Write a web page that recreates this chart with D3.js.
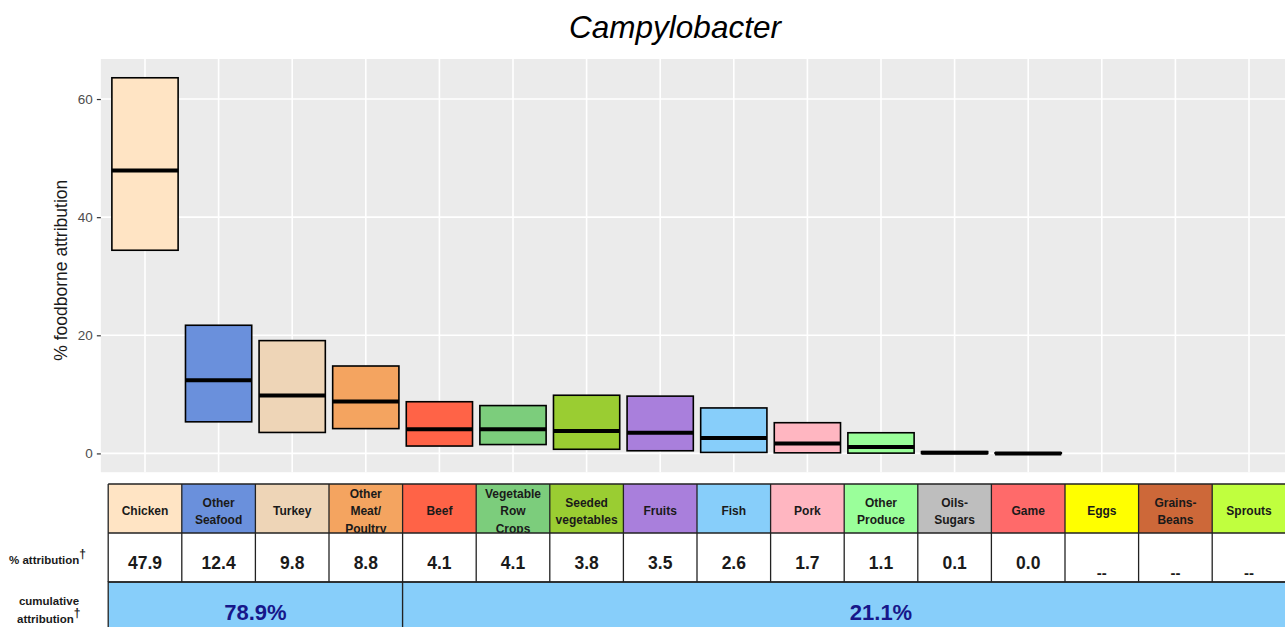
<!DOCTYPE html>
<html>
<head>
<meta charset="utf-8">
<script src="https://cdn.jsdelivr.net/npm/d3@7"></script>
<style>
  body { margin: 0; background: #ffffff; }
  svg { display: block; font-family: "Liberation Sans", Arial, sans-serif; }
</style>
</head>
<body>
<script>
// ---------- data ----------
const title = "Campylobacter";
const yAxisTitle = "% foodborne attribution";
const categories = ["Chicken", "Other Seafood", "Turkey", "Other Meat/Poultry", "Beef",
  "Vegetable Row Crops", "Seeded vegetables", "Fruits", "Fish", "Pork",
  "Other Produce", "Oils-Sugars", "Game", "Eggs", "Grains-Beans", "Sprouts"];
const headerLines = [["Chicken"], ["Other", "Seafood"], ["Turkey"], ["Other", "Meat/", "Poultry"], ["Beef"],
  ["Vegetable", "Row", "Crops"], ["Seeded", "vegetables"], ["Fruits"], ["Fish"], ["Pork"],
  ["Other", "Produce"], ["Oils-", "Sugars"], ["Game"], ["Eggs"], ["Grains-", "Beans"], ["Sprouts"]];
const colors = ["#FFE4C4", "#6A90DC", "#EED5B7", "#F4A460", "#FF6347",
  "#7CCD7C", "#9ACD32", "#A97FDC", "#87CEFA", "#FFB6C1",
  "#9AFF9A", "#BEBEBE", "#FF6A6A", "#FFFF00", "#CD6839", "#C0FF3E"];
const lowerValues  = [34.4, 5.35, 3.55, 4.2, 1.25, 1.5, 0.7, 0.45, 0.17, 0.1, 0.05, 0.0, 0.0, null, null, null];
const medianValues = [47.9, 12.4, 9.8, 8.8, 4.1, 4.1, 3.8, 3.5, 2.6, 1.7, 1.1, 0.1, 0.0, null, null, null];
const upperValues  = [63.6, 21.7, 19.1, 14.8, 8.75, 8.1, 9.85, 9.7, 7.7, 5.2, 3.5, 0.3, 0.1, null, null, null];
const attributionLabels = ["47.9", "12.4", "9.8", "8.8", "4.1", "4.1", "3.8", "3.5", "2.6", "1.7",
  "1.1", "0.1", "0.0", "--", "--", "--"];
const cumulativeLabels = ["78.9%", "21.1%"];
const cumulativeFrom = [0, 4];
const cumulativeTo = [3, 15];
const cumulativeLabelAt = ["Other Seafood|Turkey", "Other Produce"];
const yTicks = [0, 20, 40, 60];

// ---------- layout ----------
const W = 1285, H = 627;
const svg = d3.select("body").append("svg").attr("width", W).attr("height", H);

const x = d3.scaleBand().domain(categories).range([108.2, 1285.8]).padding(0);
const bw = x.bandwidth();
const cx = c => x(c) + bw / 2;

const panelTop = 59, panelBottom = 472.2;
const y = d3.scaleLinear().domain([-3.18, 66.78]).range([panelBottom, panelTop]);
const panelLeft = x.range()[0] - 0.1 * bw;
const panelRight = x.range()[1] + 0.1 * bw;

// panel background
svg.append("rect").attr("x", panelLeft).attr("y", panelTop)
  .attr("width", panelRight - panelLeft).attr("height", panelBottom - panelTop)
  .attr("fill", "#EBEBEB");

// gridlines
svg.append("g").selectAll("line").data(yTicks).join("line")
  .attr("x1", panelLeft).attr("x2", panelRight)
  .attr("y1", d => y(d)).attr("y2", d => y(d))
  .attr("stroke", "#ffffff").attr("stroke-width", 1.6);
svg.append("g").selectAll("line").data(categories).join("line")
  .attr("x1", d => cx(d)).attr("x2", d => cx(d))
  .attr("y1", panelTop).attr("y2", panelBottom)
  .attr("stroke", "#ffffff").attr("stroke-width", 1.6);

// y axis
const yAxis = d3.axisLeft(y).tickValues(yTicks).tickSize(4).tickPadding(4);
const gy = svg.append("g").attr("transform", `translate(${panelLeft},0)`).call(yAxis);
gy.select(".domain").remove();
gy.selectAll(".tick line").attr("stroke", "#333333").attr("stroke-width", 1.2);
gy.selectAll(".tick text").attr("fill", "#4D4D4D").attr("font-size", 13.5)
  .attr("font-family", "Liberation Sans, Arial, sans-serif");

svg.append("text")
  .attr("transform", `translate(67,${(y(0) + panelTop) / 2 + 14}) rotate(-90)`)
  .attr("text-anchor", "middle").attr("font-size", 17.5).attr("fill", "#1a1a1a")
  .text(yAxisTitle);

// title
svg.append("text").attr("x", 675).attr("y", 38).attr("text-anchor", "middle")
  .attr("font-size", 31.5).attr("font-style", "italic").attr("fill", "#000")
  .text(title);

// crossbars
const boxes = categories.map((c, i) => ({ c, i, lo: lowerValues[i], md: medianValues[i], hi: upperValues[i], col: colors[i] }))
  .filter(d => d.md !== null);
const boxW = bw * 0.9;
const gb = svg.append("g");
gb.selectAll("rect").data(boxes).join("rect")
  .attr("x", d => cx(d.c) - boxW / 2).attr("width", boxW)
  .attr("y", d => y(d.hi)).attr("height", d => Math.max(0, y(d.lo) - y(d.hi)))
  .attr("fill", d => d.col).attr("stroke", "#000").attr("stroke-width", 1.6);
gb.selectAll("line").data(boxes).join("line")
  .attr("x1", d => cx(d.c) - boxW / 2).attr("x2", d => cx(d.c) + boxW / 2)
  .attr("y1", d => y(d.md)).attr("y2", d => y(d.md))
  .attr("stroke", "#000").attr("stroke-width", 4);

// ---------- table ----------
const hTop = 484, hBot = 533, vBot = 582, cBot = 640;
const tbl = svg.append("g");
const border = "#222222";

// header cells
tbl.selectAll("rect.h").data(categories).join("rect").attr("class", "h")
  .attr("x", d => x(d)).attr("y", hTop).attr("width", bw).attr("height", hBot - hTop)
  .attr("fill", (d, i) => colors[i]);
// value cells
tbl.selectAll("rect.v").data(categories).join("rect").attr("class", "v")
  .attr("x", d => x(d)).attr("y", hBot).attr("width", bw).attr("height", vBot - hBot)
  .attr("fill", "#ffffff");

// header text
const defs = svg.append("defs");
categories.forEach((c, i) => {
  defs.append("clipPath").attr("id", "clip" + i).append("rect")
    .attr("x", x(c)).attr("y", hTop).attr("width", bw).attr("height", hBot - hTop);
  const lines = headerLines[i];
  const n = lines.length;
  const t = tbl.append("text").attr("clip-path", `url(#clip${i})`)
    .attr("text-anchor", "middle").attr("font-size", 12).attr("font-weight", "bold")
    .attr("fill", "#1a1a1a");
  lines.forEach((ln, k) => {
    t.append("tspan").attr("x", cx(c))
      .attr("y", 511 + 4.3 + (k - (n - 1) / 2) * 17.5).text(ln);
  });
});

// value text
tbl.selectAll("text.val").data(categories).join("text").attr("class", "val")
  .attr("x", d => cx(d))
  .attr("y", (d, i) => attributionLabels[i] === "--" ? 578 : 569)
  .attr("text-anchor", "middle").attr("font-weight", "bold")
  .attr("font-size", (d, i) => attributionLabels[i] === "--" ? 15 : 17.5)
  .attr("fill", "#1a1a1a")
  .text((d, i) => attributionLabels[i]);

// cumulative row
cumulativeLabels.forEach((lab, j) => {
  const x0 = x(categories[cumulativeFrom[j]]);
  const x1 = x(categories[cumulativeTo[j]]) + bw;
  tbl.append("rect").attr("x", x0).attr("y", vBot).attr("width", x1 - x0).attr("height", cBot - vBot)
    .attr("fill", "#87CEFA").attr("stroke", border).attr("stroke-width", 1.3);
  const at = cumulativeLabelAt[j].split("|");
  const tx = d3.mean(at, a => cx(a));
  tbl.append("text").attr("x", tx).attr("y", 620).attr("text-anchor", "middle")
    .attr("font-size", 22).attr("font-weight", "bold").attr("fill", "#17178A").text(lab);
});

// grid borders of header/value rows
const edges = categories.map(c => x(c)).concat([x.range()[1]]);
tbl.selectAll("line.vb").data(edges).join("line").attr("class", "vb")
  .attr("x1", d => d).attr("x2", d => d).attr("y1", hTop).attr("y2", vBot)
  .attr("stroke", border).attr("stroke-width", 1.3);
tbl.selectAll("line.hb").data([hTop, hBot, vBot]).join("line").attr("class", "hb")
  .attr("x1", x.range()[0]).attr("x2", x.range()[1]).attr("y1", d => d).attr("y2", d => d)
  .attr("stroke", border).attr("stroke-width", 1.3);

// row labels (dagger as a raised tspan right after the word)
const lab = svg.append("g").attr("font-weight", "bold").attr("fill", "#1a1a1a");
const l1 = lab.append("text").attr("x", 9).attr("y", 564).attr("font-size", 11.5);
l1.append("tspan").text("% attribution");
l1.append("tspan").attr("dx", 0).attr("dy", -6).attr("font-size", 12).text("†");
lab.append("text").attr("x", 49).attr("y", 605).attr("font-size", 11.5).attr("text-anchor", "middle").text("cumulative");
const l3 = lab.append("text").attr("x", 17).attr("y", 623).attr("font-size", 11.5);
l3.append("tspan").text("attribution");
l3.append("tspan").attr("dx", 0).attr("dy", -6).attr("font-size", 12).text("†");
</script>
</body>
</html>
